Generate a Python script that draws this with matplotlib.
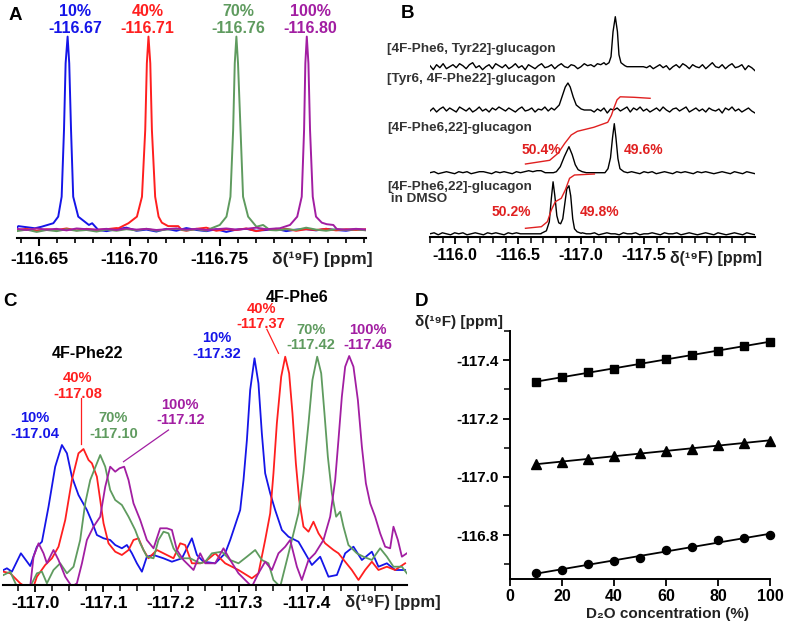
import numpy as np
import matplotlib
matplotlib.use('Agg')
import matplotlib.pyplot as plt
from matplotlib.ticker import MultipleLocator, FixedLocator, FormatStrFormatter
from matplotlib import font_manager as fm

plt.rcParams['font.family'] = ['Liberation Sans', 'DejaVu Sans']
plt.rcParams['font.weight'] = 'bold'
plt.rcParams['axes.unicode_minus'] = False

try:
    fm.findfont(fm.FontProperties(family='Liberation Sans Narrow', weight='bold'), fallback_to_default=False)
    NARROW = ['Liberation Sans Narrow', 'Liberation Sans']
except Exception:
    NARROW = ['Liberation Sans', 'DejaVu Sans']

BLUE, RED, GREEN, PURPLE = '#1515e8', '#ff1f1f', '#5f9b5f', '#a21ea2'
TXT = '#222222'

# ---------------- Panel A data (ppm, relative intensity) ----------------
A_pct = ['10%', '40%', '70%', '100%']
A_shift = [-116.67, -116.71, -116.76, -116.80]
A_blue_ppm = [-116.6384, -116.6476, -116.6513, -116.6578, -116.6605, -116.6624, -116.6637, -116.6646,
              -116.6657, -116.6666, -116.6676, -116.6688, -116.6716, -116.6775, -116.6793, -116.6827]
A_blue_int = [0.02, 0.009, 0.017, 0.035, 0.069, 0.172, 0.517, 0.862, 1.0, 0.862, 0.517, 0.172, 0.069,
              0.026, 0.035, 0.0]
A_red_ppm = [-116.6939, -116.6994, -116.7041, -116.7069, -116.7087, -116.7096, -116.7105, -116.7115,
             -116.7124, -116.7142, -116.7161, -116.7179, -116.7214, -116.7270, -116.7290]
A_red_int = [0.009, 0.035, 0.069, 0.172, 0.517, 0.862, 1.0, 0.862, 0.517, 0.172, 0.069, 0.038, 0.02,
             0.02, 0.0]
A_green_ppm = [-116.7454, -116.7500, -116.7537, -116.7559, -116.7574, -116.7583, -116.7592, -116.7601,
               -116.7615, -116.7629, -116.7657, -116.7703, -116.7740, -116.7777]
A_green_int = [0.009, 0.026, 0.069, 0.172, 0.517, 0.862, 1.0, 0.862, 0.517, 0.172, 0.069, 0.017,
               0.026, 0.0]
A_purple_ppm = [-116.7833, -116.7889, -116.7929, -116.7954, -116.7967, -116.7974, -116.7982, -116.7991,
                -116.8000, -116.8015, -116.8033, -116.8065, -116.8092, -116.8129, -116.8148]
A_purple_int = [0.009, 0.026, 0.069, 0.172, 0.517, 0.862, 1.0, 0.862, 0.517, 0.172, 0.069, 0.038,
                0.03, 0.026, 0.005]
A_blue_base = [0.01, -0.005, 0.012, 0.0, 0.008, -0.004, 0.006, 0.0, 0.01, -0.006, 0.004, 0.012,
               -0.004, 0.002, -0.008, 0.006, -0.004, 0.01, 0.0, -0.006, 0.004, -0.01, 0.002, 0.006,
               -0.004, 0.0, 0.006, -0.006, 0.002, 0.004, -0.002, 0.006, 0.0, -0.004, 0.004, 0.0]
A_red_base = [0.0, 0.006, -0.004, 0.004, 0.0, 0.008, -0.002, 0.006, 0.0, 0.004, 0.01, 0.002, 0.006,
              -0.004, 0.004, 0.0, 0.008, -0.004, 0.006, 0.012, -0.004, 0.004, 0.0, 0.008, -0.006,
              0.004, 0.0, 0.006, -0.004, 0.004, 0.0, 0.006, -0.002, 0.004, 0.0, 0.004]
A_green_base = [-0.006, 0.002, -0.01, 0.0, -0.006, 0.004, -0.004, 0.0, -0.008, 0.002, -0.004, 0.004,
                -0.002, 0.006, -0.004, 0.002, 0.006, -0.002, 0.004, -0.004, 0.008, 0.0, -0.004, 0.004,
                0.0, 0.006, -0.002, 0.004, 0.0, 0.012, 0.002, -0.004, 0.004, 0.0, 0.004, -0.002]
A_purple_base = [0.006, 0.0, 0.008, 0.002, 0.006, -0.002, 0.008, 0.004, 0.002, 0.006, 0.0, 0.008,
                 0.002, 0.006, 0.0, 0.004, 0.008, 0.002, 0.006, 0.0, 0.004, 0.008, 0.002, 0.006,
                 0.012, 0.004, 0.008, 0.002, 0.006, 0.01, 0.004, 0.012, 0.006, 0.002, 0.006, 0.002]

# ---------------- Panel B data ----------------
B_names = ['[4F-Phe6, Tyr22]-glucagon', '[Tyr6, 4F-Phe22]-glucagon', '[4F-Phe6,22]-glucagon',
           '[4F-Phe6,22]-glucagon\n in DMSO']
B1_peak_ppm = [-117.197, -117.221, -117.237, -117.253, -117.271, -117.288, -117.300, -117.316, -117.347]
B1_peak_int = [2, 4, 10, 35, 50, 35, 12, 4, 1]
B2_peak_ppm = [-116.787, -116.826, -116.850, -116.874, -116.895, -116.913, -116.937, -116.961, -117.0]
B2_peak_int = [0, 5, 14, 23, 27, 23, 13, 5, 1]
B3a_peak_ppm = [-116.803, -116.834, -116.866, -116.903, -116.929, -116.953, -116.976, -117.008]
B3a_peak_int = [1, 6, 16, 26, 18, 8, 3, 1]
B3b_peak_ppm = [-117.189, -117.213, -117.233, -117.249, -117.263, -117.276, -117.292, -117.308, -117.339]
B3b_peak_int = [0, 4, 15, 35, 49, 35, 14, 4, 1]
B4_peak_ppm = [-116.684, -116.724, -116.747, -116.763, -116.777, -116.791, -116.807, -116.822, -116.837,
               -116.854, -116.870, -116.886, -116.903, -116.917, -116.933, -116.947, -116.968, -117.0]
B4_peak_int = [0.5, 3, 12, 35, 52, 38, 18, 11, 10, 15, 30, 45, 48, 38, 15, 5, 2, 0.5]
B1_noise = [1, -3, 2, -1, 3, -2, 0, 2, -1, 3, 1, -2, 2, 4, -1, 1, -3, 0, 2, -2, 3, 1, -1, 2, -2, 0,
            3, -1, 1, -3, 2, 0, -2, 1, 3, -1, 0, 2, -2, 1, 3, 0, -1, 2, 1, -2, 0, 3, 1, 2, 0, 3, 2, 4,
            3, 5, 4, 6, 5, 4, 0, 0, 0, 0, 0, 0, -1, 1, -2, 0, 2, -1, 1, -3, 0, 2, -1, 3, 1, -2, 2, 0,
            -1, 2, -2, 1, 4, 0, -1, 2, -2, 1, 3, -1, 0, 2, -3, 1, -1, -4]
B2_noise = [-1, 2, -2, 1, 3, -1, 2, 0, -2, 3, 1, -1, 2, -2, 0, 3, -1, 1, -2, 2, 0, 3, 1, -1, 2, 0,
            -2, 1, 3, -1, 0, 2, -2, 1, 0, 3, -1, 2, 1, 3, 2, 0, 0, 0, 0, 0, 0, 0, 0, 0, -2, 1, -1, 2,
            -3, 1, 0, 2, -1, 1, 3, -2, 2, 0, 3, -1, 1, -2, 0, 2, -1, 3, 0, -2, 1, 2, -1, 1, 3, -2, 0,
            2, -1, 1, -2, 2, 0, -1, 1, -3, 2, 0, 3, -1, 1, -2, 0, 2, -1, -3]
B3_noise = [0, 1, -1, 0, 1, 0, -1, 1, 0, 1, -1, 0, 1, 1, 0, -1, 1, 0, 1, 0, -1, 1, 0, 1, 2, 1, 2,
            2, 0, 0, 0, 0, 0, 0, 0, 1, 0, 1, 0, 0, 0, 0, 0, 0, 0, 0, 0, 0, 0, 1, 0, -1, 1, 0, 1, -1,
            0, 1, 0, -1, 1, 0, 1, 0, -1, 1, 0, 1, 0, -1, 0, 1, 0, -1, 1, 0, -1, 1, 0, -1]
B4_noise = [0, 1, -1, 1, 0, -1, 1, 0, 1, -1, 0, 1, 0, -1, 1, 0, 1, 0, -1, 1, 0, 1, 0, 0, 0, 0, 0,
            0, 0, 0, 0, 0, 0, 0, 1, 0, -1, 1, 0, 0, 1, -1, 0, 1, 0, 0, -1, 1, 0, 0, 1, -1, 0, 0, 1, 0,
            -1, 1, 0, 0, 1, -1, 0, 1, 0, -1, 0, 1, 0, -1, 1, 0, -1, 0, 1, 0, -1, 1, 0, -1]
B3_integral_ppm = [-116.558, -116.75, -116.816, -116.87, -116.921, -116.97, -117.10, -117.211, -117.24,
                   -117.262, -117.285, -117.31, -117.42, -117.547]
B3_integral_val = [73.3, 77, 84, 94, 102.3, 106, 110, 115, 122, 130, 137.5, 140.5, 140, 139]
B4_integral_ppm = [-116.558, -116.684, -116.732, -116.763, -116.795, -116.842, -116.874, -116.908,
                   -116.947, -117.105]
B4_integral_val = [9, 10.6, 15.6, 27.3, 35.6, 39, 47.3, 59, 62.3, 63.3]
B_pct3 = ['50.4%', '49.6%']
B_pct4 = ['50.2%', '49.8%']

# ---------------- Panel C data (ppm, intensity a.u.) ----------------
C_blue_ppm = [-116.9533, -116.9583, -116.9657, -116.9789, -116.9926, -117.0025, -117.0099, -117.0196,
              -117.0294, -117.0393, -117.0467, -117.0540, -117.0637, -117.0761, -117.0835, -117.0908,
              -117.1006, -117.1104, -117.1178, -117.1276, -117.1350, -117.1424, -117.1497, -117.1571,
              -117.1644, -117.1742, -117.1889, -117.2013, -117.2160, -117.2307, -117.2381, -117.2478,
              -117.2650, -117.2797, -117.2871, -117.2969, -117.3018, -117.3067, -117.3117, -117.3165,
              -117.3229, -117.3287, -117.3337, -117.3386, -117.3460, -117.3533, -117.3632, -117.3729,
              -117.3876, -117.3975, -117.4074, -117.4196, -117.4318, -117.4442, -117.4564, -117.4686,
              -117.4810, -117.4957, -117.5054, -117.5178, -117.5300, -117.5447]
C_blue_int = [15, 16.7, 13.3, 31.7, 19, 38.3, 43.3, 78.3, 118.3, 140, 131.7, 108.3, 90, 75, 63.3, 50,
              46.7, 45, 40, 36.7, 40, 31.7, 21.7, 13.3, 28.3, 30, 26.7, 23.3, 26.7, 46.7, 30, 23.3,
              21.7, 31.7, 45, 65, 75, 105, 145, 195, 226.7, 201.7, 151.7, 111.7, 91.7, 75, 55, 48.3,
              43.3, 31.7, 20, 28.3, 8.3, 10, 31.7, 38.3, 25, 33.3, 18.3, 21.7, 15, 15]
C_red_ppm = [-116.9533, -116.9632, -116.9779, -116.9926, -116.9975, -117.0025, -117.0147, -117.0246,
             -117.0343, -117.0442, -117.0540, -117.0637, -117.0711, -117.0785, -117.0835, -117.0908,
             -117.0957, -117.1006, -117.1079, -117.1178, -117.1276, -117.1374, -117.1447, -117.1521,
             -117.1594, -117.1668, -117.1792, -117.1939, -117.2036, -117.2135, -117.2208, -117.2307,
             -117.2429, -117.2503, -117.2650, -117.2797, -117.2993, -117.3190, -117.3287, -117.3386,
             -117.3460, -117.3508, -117.3558, -117.3622, -117.3681, -117.3739, -117.3788, -117.3838,
             -117.3887, -117.3950, -117.4024, -117.4097, -117.4171, -117.4269, -117.4392, -117.4465,
             -117.4564, -117.4662, -117.4760, -117.4858, -117.4957, -117.5054, -117.5178, -117.5300,
             -117.5447]
C_red_int = [13.3, 11.7, 1.7, -5, -1.7, 8.3, 20, 26.7, 38.3, 65, 105, 131.7, 136, 125, 121.7, 108.3,
             85, 61.7, 41.7, 33.3, 30, 35, 45, 46.7, 35, 26.7, 35, 30, 26.7, 41.7, 40, 21.7, 21.7,
             23.3, 31.7, 21.7, 15, 6.7, 11.7, 45, 71.7, 111.7, 161.7, 208.3, 228.3, 211.7, 171.7,
             121.7, 85, 58.3, 53.3, 63.3, 51.7, 41.7, 35, 31.7, 23.3, 15, 5, 15, 23.3, 15, 18.3, 15,
             21.7]
C_green_ppm = [-116.9533, -116.9632, -116.9731, -116.9926, -117.0025, -117.0099, -117.0172, -117.0269,
               -117.0368, -117.0467, -117.0564, -117.0662, -117.0736, -117.0810, -117.0908, -117.0957,
               -117.1031, -117.1104, -117.1178, -117.1276, -117.1374, -117.1472, -117.1546, -117.1644,
               -117.1742, -117.1815, -117.1889, -117.1962, -117.2036, -117.2135, -117.2282, -117.2429,
               -117.2503, -117.2601, -117.2749, -117.2871, -117.2993, -117.3117, -117.3239, -117.3337,
               -117.3435, -117.3508, -117.3607, -117.3706, -117.3779, -117.3876, -117.3950, -117.4024,
               -117.4082, -117.4152, -117.4211, -117.4259, -117.4309, -117.4368, -117.4431, -117.4490,
               -117.4539, -117.4612, -117.4736, -117.4833, -117.4957, -117.5079, -117.5178, -117.5275,
               -117.5399, -117.5472]
C_green_int = [10, 13.3, -1.7, -1.7, 11.7, 13.3, 1.7, 15, 21.7, 11.7, 18.3, 45, 81.7, 105, 121.7, 130,
               118.3, 95, 85, 80, 68.3, 55, 41.7, 28.3, 26.7, 45, 53.3, 51.7, 36.7, 26.7, 26.7, 21.7,
               23.3, 31.7, 33.3, 25, 21.7, 28.3, 35, 25, 21.7, 5, -1.7, 25, 45, 71.7, 111.7, 161.7,
               205, 228.3, 211.7, 171.7, 128.3, 91.7, 68.3, 73.3, 58.3, 40, 31.7, 28.3, 25, 36.7, 28.3,
               18.3, 18.3, 11.7]
C_purple_ppm = [-116.9533, -116.9779, -116.9926, -116.9975, -117.0049, -117.0122, -117.0172, -117.0269,
                -117.0343, -117.0442, -117.0540, -117.0614, -117.0688, -117.0761, -117.0858, -117.0957,
                -117.1031, -117.1104, -117.1178, -117.1241, -117.1310, -117.1374, -117.1447, -117.1546,
                -117.1644, -117.1742, -117.1840, -117.1939, -117.2013, -117.2086, -117.2183, -117.2331,
                -117.2429, -117.2503, -117.2650, -117.2772, -117.2871, -117.2993, -117.3190, -117.3287,
                -117.3386, -117.3485, -117.3582, -117.3681, -117.3754, -117.3853, -117.3926, -117.4024,
                -117.4122, -117.4244, -117.4343, -117.4417, -117.4465, -117.4515, -117.4564, -117.4623,
                -117.4686, -117.4751, -117.4810, -117.4869, -117.4932, -117.5005, -117.5079, -117.5153,
                -117.5226, -117.5275, -117.5340, -117.5399, -117.5472]
C_purple_int = [-15, -15, -1.7, 28.3, 41.7, 31.7, 21.7, 35, 25, 8.3, -1.7, 1.7, 21.7, 45, 58.3, 68.3,
                98.3, 118.3, 113.3, 116.7, 118.3, 105, 81.7, 65, 45, 36.7, 56.7, 56.7, 55, 35, 25, 15,
                31.7, 21.7, 21.7, 36.7, 25, 11.7, -1.7, 11.7, 23.3, 15, 31.7, 38.3, 45, 18.3, 5, 25,
                31.7, 45, 68.3, 105, 145, 188.3, 218.3, 229, 218.3, 185, 138.3, 101.7, 81.7, 68.3, 51.7,
                38.3, 36.7, 58.3, 45, 28.3, 31.7]
C_pct = ['10%', '40%', '70%', '100%']
C_phe22 = [-117.04, -117.08, -117.10, -117.12]
C_phe6 = [-117.32, -117.37, -117.42, -117.46]

# ---------------- Panel D data ----------------
D_conc = [10, 20, 30, 40, 50, 60, 70, 80, 90, 100]
D_phe6 = [-117.326, -117.341, -117.358, -117.371, -117.389, -117.403, -117.417, -117.432, -117.449, -117.463]
D_phe22 = [-117.043, -117.051, -117.061, -117.072, -117.082, -117.090, -117.096, -117.109, -117.117, -117.123]
D_third = [-116.669, -116.680, -116.703, -116.712, -116.723, -116.749, -116.759, -116.783, -116.789, -116.800]

# =====================================================================
W, H = 788, 626
fig = plt.figure(figsize=(W / 100, H / 100), dpi=100)


def add_ax(l, t, r, b):
    return fig.add_axes([l / W, 1 - b / H, (r - l) / W, (b - t) / H])


def ftext(x, y, s, **kw):
    fig.text(x / W, 1 - y / H, s, **kw)


def build(base_ppm, base_val, peaks):
    bx = np.asarray(base_ppm, float)
    by = np.asarray(base_val, float)
    keep = np.ones(len(bx), bool)
    xs, ys = [], []
    for px, py in peaks:
        lo, hi = min(px), max(px)
        keep &= ~((bx >= lo) & (bx <= hi))
        xs.extend(px)
        ys.extend(py)
    x = np.concatenate([bx[keep], np.asarray(xs, float)])
    y = np.concatenate([by[keep], np.asarray(ys, float)])
    o = np.argsort(x)
    return x[o], y[o]


def style_bottom(ax, lw=1.5):
    for s in ['left', 'right', 'top']:
        ax.spines[s].set_visible(False)
    ax.spines['bottom'].set_linewidth(lw)
    ax.set_yticks([])
    ax.patch.set_alpha(0)


SUP = 'δ(¹⁹F) [ppm]'

# ---------------- Panel A ----------------
axA = add_ax(16.7, 30, 366, 238)
A_lim = (-116.6375, -116.831)
A_series = [(A_blue_ppm, A_blue_int, A_blue_base, BLUE), (A_red_ppm, A_red_int, A_red_base, RED),
            (A_green_ppm, A_green_int, A_green_base, GREEN), (A_purple_ppm, A_purple_int, A_purple_base, PURPLE)]
for ppm, inten, base, col in A_series:
    grid = np.linspace(A_lim[0], A_lim[1], len(base))
    x, y = build(grid, base, [(ppm, inten)])
    axA.plot(x, y, color=col, lw=1.4)
axA.set_xlim(*A_lim)
axA.set_ylim(-0.0414, 1.034)
style_bottom(axA)
axA.xaxis.set_major_locator(FixedLocator([-116.65, -116.70, -116.75]))
axA.xaxis.set_minor_locator(MultipleLocator(0.01))
axA.xaxis.set_major_formatter(FormatStrFormatter('%.2f'))
axA.tick_params(axis='x', which='major', length=6, width=1.5, labelsize=12.5, pad=4)
axA.tick_params(axis='x', which='minor', length=3.5, width=1.2)
for lab, sh, col in zip(A_pct, A_shift, [BLUE, RED, GREEN, PURPLE]):
    axA.text(sh, 1.128, lab, color=col, ha='center', va='center', fontsize=11.5, fontweight='bold')
    axA.text(sh, 1.040, '%.2f' % sh, color=col, ha='center', va='center', fontsize=11.5, fontweight='bold')
ftext(272, 259, SUP, ha='left', va='center', fontsize=12.5, fontweight='bold', color=TXT)
ftext(15, 15, 'A', ha='center', va='center', fontsize=13.5, fontweight='bold')

# ---------------- Panel B ----------------
axB = add_ax(430, 10, 755, 237.3)
B_lim = (-115.80, -118.38)
B_offsets = [170.6, 127.3, 64.6, 3.5]
B_specs = [(B1_noise, [(B1_peak_ppm, B1_peak_int)]),
           (B2_noise, [(B2_peak_ppm, B2_peak_int)]),
           (B3_noise, [(B3a_peak_ppm, B3a_peak_int), (B3b_peak_ppm, B3b_peak_int)]),
           (B4_noise, [(B4_peak_ppm, B4_peak_int)])]
for (noise, peaks), off in zip(B_specs, B_offsets):
    grid = np.linspace(B_lim[0], B_lim[1], len(noise))
    x, y = build(grid, noise, peaks)
    axB.plot(x, y + off, color='black', lw=1.0)
axB.plot(B3_integral_ppm, B3_integral_val, color='#e02020', lw=1.0)
axB.plot(B4_integral_ppm, B4_integral_val, color='#e02020', lw=1.0)
axB.set_xlim(*B_lim)
axB.set_ylim(0, 227.3)
style_bottom(axB)
axB.xaxis.set_major_locator(FixedLocator([-116.0, -116.5, -117.0, -117.5]))
axB.xaxis.set_minor_locator(MultipleLocator(0.1))
axB.xaxis.set_major_formatter(FormatStrFormatter('%.1f'))
axB.tick_params(axis='x', which='major', length=5, width=1.3, labelsize=11.5, pad=3)
axB.tick_params(axis='x', which='minor', length=4, width=1.1)
B_label_y = [49, 79, 128, 193]
for name, yy in zip(B_names, B_label_y):
    ftext(387, yy, name, ha='left', va='center', fontsize=9.7, fontweight='bold', color='#333333',
          linespacing=1.05)
ftext(541.7, 150, B_pct3[0], ha='center', va='center', fontsize=10, fontweight='bold', color='#e02020')
ftext(643.3, 150, B_pct3[1], ha='center', va='center', fontsize=10, fontweight='bold', color='#e02020')
ftext(511.7, 211.7, B_pct4[0], ha='center', va='center', fontsize=10, fontweight='bold', color='#e02020')
ftext(600, 211.7, B_pct4[1], ha='center', va='center', fontsize=10, fontweight='bold', color='#e02020')
ftext(670, 258, SUP, ha='left', va='center', fontsize=11.5, fontweight='bold', color=TXT)
ftext(408, 14, 'B', ha='center', va='center', fontsize=13.5, fontweight='bold')

# ---------------- Panel C ----------------
axC = add_ax(3.3, 295, 406.7, 585)
C_series = [(C_blue_ppm, C_blue_int, BLUE), (C_red_ppm, C_red_int, RED),
            (C_green_ppm, C_green_int, GREEN), (C_purple_ppm, C_purple_int, PURPLE)]
for ppm, inten, col in C_series:
    axC.plot(ppm, inten, color=col, lw=1.3)
axC.set_xlim(-116.953, -117.547)
axC.set_ylim(0, 290)
style_bottom(axC)
axC.xaxis.set_major_locator(FixedLocator([-117.0, -117.1, -117.2, -117.3, -117.4]))
axC.xaxis.set_minor_locator(MultipleLocator(0.025))
axC.xaxis.set_major_formatter(FormatStrFormatter('%.1f'))
axC.tick_params(axis='x', which='major', length=5, width=1.3, labelsize=12.5, pad=3)
axC.tick_params(axis='x', which='minor', length=4, width=1.1)


def cxy(x, y):
    return (-117.0 - (x - 35) / 679.25, 585 - y)


cols = [BLUE, RED, GREEN, PURPLE]
C22_pos = [(35, 418.3), (77.3, 378.3), (113.3, 418.3), (180, 405)]
C6_pos = [(216.7, 338.3), (261, 309), (311, 330), (367.7, 330)]
for i in range(4):
    for pos, vals in ((C22_pos[i], C_phe22), (C6_pos[i], C_phe6)):
        tx, ty = cxy(*pos)
        axC.text(tx, ty, C_pct[i], color=cols[i], ha='center', va='center', fontsize=10.5,
                 fontweight='bold')
        tx, ty = cxy(pos[0], pos[1] + 15.3)
        axC.text(tx, ty, '%.2f' % vals[i], color=cols[i], ha='center', va='center', fontsize=10.5,
                 fontweight='bold')
for (x0, y0), (x1, y1), col in [((80.7, 398.3), (80.7, 444), RED), ((168.3, 430), (123.3, 461.7), PURPLE),
                                ((266.7, 329.3), (278.3, 353.3), RED)]:
    p0, p1 = cxy(x0, y0), cxy(x1, y1)
    axC.plot([p0[0], p1[0]], [p0[1], p1[1]], color=col, lw=0.9, clip_on=False)
tx, ty = cxy(87.3, 353.3)
axC.text(tx, ty, '4F-Phe22', ha='center', va='center', fontsize=11.5, fontweight='bold', color='black')
tx, ty = cxy(297, 297)
axC.text(tx, ty, '4F-Phe6', ha='center', va='center', fontsize=11.5, fontweight='bold', color='black')
ftext(345, 602, SUP, ha='left', va='center', fontsize=12, fontweight='bold', color=TXT)
ftext(10, 302, 'C', ha='center', va='center', fontsize=13.5, fontweight='bold')

# ---------------- Panel D ----------------
axD = add_ax(510, 331, 770, 579)
for vals, mk, ms in [(D_phe6, 's', 5.8), (D_phe22, '^', 6.6), (D_third, 'o', 5.8)]:
    coef = np.polyfit(D_conc, vals, 1)
    xx = np.array([min(D_conc), max(D_conc)], float)
    axD.plot(xx, np.polyval(coef, xx), color='black', lw=1.3, clip_on=False)
    axD.plot(D_conc, vals, ls='none', marker=mk, ms=ms, color='black', clip_on=False)
axD.set_xlim(0, 100)
axD.set_ylim(-116.65, -117.5)
for s in ['right', 'top']:
    axD.spines[s].set_visible(False)
for s in ['left', 'bottom']:
    axD.spines[s].set_linewidth(1.4)
axD.patch.set_alpha(0)
axD.xaxis.set_major_locator(FixedLocator([0, 20, 40, 60, 80, 100]))
axD.yaxis.set_major_locator(FixedLocator([-117.4, -117.2, -117.0, -116.8]))
axD.yaxis.set_minor_locator(FixedLocator([-117.5, -117.3, -117.1, -116.9, -116.7]))
axD.yaxis.set_major_formatter(FormatStrFormatter('%.1f'))
axD.tick_params(axis='both', which='major', length=5, width=1.3)
axD.tick_params(axis='y', which='minor', length=4, width=1.1)
axD.tick_params(axis='x', labelsize=11.5, pad=2)
axD.tick_params(axis='y', labelsize=11, pad=3)
for t in axD.get_yticklabels():
    t.set_family(NARROW)
ftext(503, 322, SUP, ha='right', va='center', fontsize=11, fontweight='bold', color=TXT)
ftext(668, 614, 'D₂O concentration (%)', ha='center', va='center', fontsize=11, fontweight='bold',
      color=TXT)
ftext(421, 301, 'D', ha='center', va='center', fontsize=13.5, fontweight='bold')

fig.savefig('out.png', dpi=100)
